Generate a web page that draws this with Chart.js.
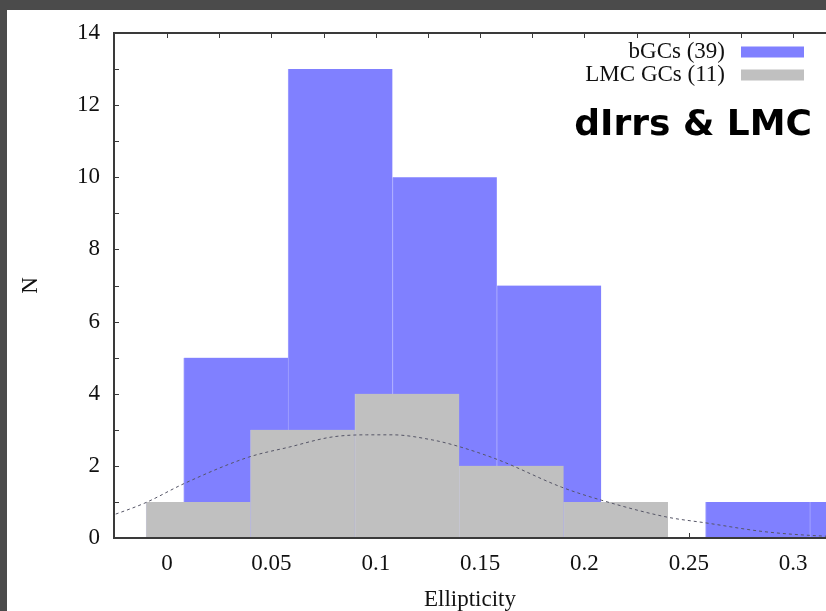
<!DOCTYPE html>
<html>
<head>
<meta charset="utf-8">
<script src="https://cdn.jsdelivr.net/npm/chart.js@4/dist/chart.umd.min.js"></script>
<style>
  html, body { margin: 0; padding: 0; background: #4b4b4b; overflow: hidden; }
  #sheet { position: absolute; left: 7px; top: 10px; width: 819px; height: 601px; background: #ffffff; }
  #wrap { position: absolute; left: 0; top: 0; width: 826px; height: 611px; }
</style>
</head>
<body>
<div id="sheet"></div>
<div id="wrap"><canvas id="chart" width="826" height="611"></canvas></div>
<script>
// Axis tick values
const ellipticityTicks = [0, 0.05, 0.1, 0.15, 0.2, 0.25, 0.3];
const countTicks = [0, 2, 4, 6, 8, 10, 12, 14];

// Histogram of bGCs: left edge of each 0.05-wide bin and its count
const binWidth = 0.05;
const bgcBinStarts = [0.008, 0.058, 0.108, 0.158, 0.208, 0.258, 0.308];
const bgcCounts = [5, 13, 10, 7, 0, 1, 1];

// Histogram of LMC globular clusters
const lmcBinStarts = [-0.01, 0.04, 0.09, 0.14, 0.19];
const lmcCounts = [1, 3, 4, 2, 1];

// Smooth fit to the LMC distribution (ellipticity, N)
const fitEllipticity = [-0.03, -0.0106, 0.0086, 0.039, 0.0585, 0.079, 0.0955, 0.108, 0.127, 0.139, 0.159, 0.189, 0.208, 0.2395, 0.258, 0.287, 0.3157, 0.33];
const fitCounts = [0.55, 0.97, 1.52, 2.24, 2.52, 2.80, 2.86, 2.86, 2.72, 2.55, 2.16, 1.41, 1.05, 0.58, 0.42, 0.17, 0.05, 0.03];

const seriesLabels = ['bGCs (39)', 'LMC GCs (11)'];
const panelLabel = 'dIrrs & LMC';
const xRange = [-0.0254, 0.3157];
const yRange = [0, 14];

const serif = '"Liberation Serif", "Times New Roman", serif';
const textColor = '#111111';
const axisColor = '#3a3a3a';

const toBars = (starts, counts) => starts.map((s, i) => ({ x: s + binWidth / 2, y: counts[i] }));
const setTicks = values => scale => { scale.ticks = values.map(v => ({ value: v })); };

// Inward tick marks plus the top frame line
const frameTicks = {
  id: 'frameTicks',
  beforeDatasetsDraw(chart) {
    const { ctx, chartArea: a, scales } = chart;
    const x = scales.x, y = scales.y;
    const len = 5;
    ctx.save();
    ctx.strokeStyle = axisColor;
    ctx.lineWidth = 1;
    ctx.beginPath();
    for (let v = 0; v <= xRange[1] + 1e-9; v += 0.025) {
      const px = Math.round(x.getPixelForValue(v)) + 0.5;
      ctx.moveTo(px, a.bottom); ctx.lineTo(px, a.bottom - len);
      ctx.moveTo(px, a.top); ctx.lineTo(px, a.top + len);
    }
    for (let v = yRange[0] + 1; v < yRange[1]; v += 1) {
      const py = Math.round(y.getPixelForValue(v)) + 0.5;
      ctx.moveTo(a.left, py); ctx.lineTo(a.left + len, py);
    }
    ctx.stroke();
    ctx.restore();
  },
  afterDatasetsDraw(chart) {
    const { ctx, chartArea: a } = chart;
    ctx.save();
    ctx.strokeStyle = axisColor;
    ctx.lineWidth = 2;
    ctx.beginPath();
    ctx.moveTo(a.left - 1, a.top);
    ctx.lineTo(a.right, a.top);
    ctx.stroke();
    ctx.restore();
  }
};

// Key in the upper right corner and the panel caption
const keyAndCaption = {
  id: 'keyAndCaption',
  afterDraw(chart) {
    const { ctx, chartArea: a } = chart;
    const ds = chart.data.datasets;
    ctx.save();
    ctx.font = '23px ' + serif;
    ctx.textAlign = 'right';
    ctx.textBaseline = 'middle';
    const textRight = a.right - 101;
    const swLeft = a.right - 85;
    [0, 1].forEach(i => {
      const cy = a.top + 19 + i * 23;
      ctx.fillStyle = textColor;
      ctx.fillText(ds[i].label, textRight, cy);
      ctx.fillStyle = ds[i].backgroundColor;
      ctx.fillRect(swLeft, cy - 5.5, 63, 11);
    });
    ctx.fillStyle = '#000000';
    ctx.font = 'bold 36px "DejaVu Sans", sans-serif';
    ctx.textBaseline = 'alphabetic';
    ctx.fillText(panelLabel, a.right - 14, a.top + 102);
    ctx.restore();
  }
};

new Chart(document.getElementById('chart'), {
  type: 'bar',
  data: {
    datasets: [
      {
        label: seriesLabels[0],
        data: toBars(bgcBinStarts, bgcCounts),
        xAxisID: 'x',
        backgroundColor: '#8080ff',
        borderColor: '#a2a2ff',
        borderWidth: { left: 1, top: 0, right: 0, bottom: 0 },
        borderSkipped: false,
        grouped: false,
        barPercentage: 1,
        categoryPercentage: 1,
        order: 3
      },
      {
        label: seriesLabels[1],
        data: toBars(lmcBinStarts, lmcCounts),
        xAxisID: 'x2',
        backgroundColor: '#c0c0c0',
        borderColor: '#c6c6d2',
        borderWidth: { left: 1, top: 0, right: 0, bottom: 0 },
        borderSkipped: false,
        grouped: false,
        barPercentage: 1,
        categoryPercentage: 1,
        order: 2
      },
      {
        type: 'line',
        label: 'fit',
        data: fitEllipticity.map((e, i) => ({ x: e, y: fitCounts[i] })),
        xAxisID: 'x',
        borderColor: '#555566',
        borderWidth: 1,
        borderDash: [3, 3],
        pointRadius: 0,
        fill: false,
        cubicInterpolationMode: 'monotone',
        order: 1
      }
    ]
  },
  options: {
    responsive: false,
    animation: false,
    events: [],
    layout: { padding: { left: 0, top: 33, right: 0, bottom: 0 } },
    plugins: { legend: { display: false }, tooltip: { enabled: false }, title: { display: false } },
    scales: {
      x: {
        type: 'linear',
        position: 'bottom',
        min: xRange[0],
        max: xRange[1],
        offset: false,
        afterBuildTicks: setTicks(ellipticityTicks),
        afterFit: s => { s.height = 73; },
        grid: { display: true, drawOnChartArea: false, drawTicks: false },
        border: { display: true, color: axisColor, width: 2, z: 1 },
        ticks: {
          padding: 12,
          color: textColor,
          font: { family: serif, size: 23 },
          maxRotation: 0,
          autoSkip: false,
          callback: v => String(v)
        },
        title: {
          display: true,
          text: 'Ellipticity',
          color: textColor,
          font: { family: serif, size: 23, lineHeight: 1 },
          padding: { top: 0, bottom: 0 }
        }
      },
      x2: {
        type: 'linear',
        display: false,
        min: xRange[0],
        max: xRange[1],
        offset: false,
        afterBuildTicks: setTicks(ellipticityTicks)
      },
      y: {
        type: 'linear',
        position: 'left',
        min: yRange[0],
        max: yRange[1],
        afterBuildTicks: setTicks(countTicks),
        afterFit: s => { s.width = 114; },
        grid: { display: true, drawOnChartArea: false, drawTicks: false },
        border: { display: true, color: axisColor, width: 2, z: 1 },
        ticks: {
          padding: 14,
          color: textColor,
          font: { family: serif, size: 23 },
          autoSkip: false
        },
        title: {
          display: true,
          text: 'N',
          color: textColor,
          font: { family: serif, size: 23, lineHeight: 1.2 },
          padding: { top: 17, bottom: 0 }
        }
      }
    }
  },
  plugins: [frameTicks, keyAndCaption]
});
</script>
</body>
</html>
